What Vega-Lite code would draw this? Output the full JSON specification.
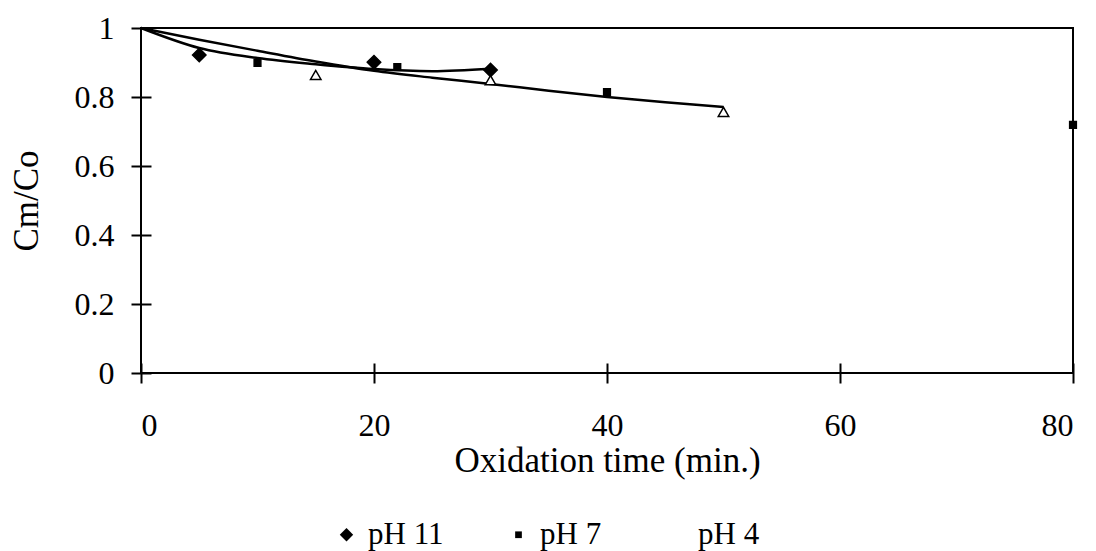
{
  "$schema": "https://vega.github.io/schema/vega-lite/v6.json",
  "width": 932,
  "height": 345,
  "autosize": {"type": "none"},
  "padding": {"left": 141, "top": 28, "right": 23, "bottom": 178},
  "background": "white",
  "config": {
    "view": {"stroke": "black", "strokeWidth": 2},
    "font": "Liberation Serif",
    "axis": {
      "domain": false,
      "grid": false,
      "offset": -10,
      "tickSize": 20,
      "tickWidth": 2,
      "tickColor": "black",
      "labelFont": "Liberation Serif",
      "labelFontSize": 32,
      "labelColor": "black",
      "titleFont": "Liberation Serif",
      "titleFontSize": 35,
      "titleFontWeight": "normal",
      "titleColor": "black"
    },
    "legend": {
      "orient": "none",
      "legendX": 190,
      "legendY": 491,
      "direction": "horizontal",
      "columns": 3,
      "padding": 0,
      "labelFont": "Liberation Serif",
      "labelFontSize": 31,
      "labelColor": "black",
      "labelOffset": 6,
      "columnPadding": 59,
      "symbolStrokeColor": "black",
      "symbolStrokeWidth": 1.5
    }
  },
  "datasets": {
    "points": [
      {"series": "pH 11", "time": 5, "ratio": 0.922},
      {"series": "pH 11", "time": 20, "ratio": 0.901},
      {"series": "pH 11", "time": 30, "ratio": 0.878},
      {"series": "pH 7", "time": 10, "ratio": 0.899},
      {"series": "pH 7", "time": 22, "ratio": 0.887},
      {"series": "pH 7", "time": 40, "ratio": 0.814},
      {"series": "pH 7", "time": 80, "ratio": 0.719},
      {"series": "pH 4", "time": 15, "ratio": 0.864},
      {"series": "pH 4", "time": 30, "ratio": 0.849},
      {"series": "pH 4", "time": 50, "ratio": 0.757}
    ],
    "fits": [
      {"curve": "main", "time": 0, "ratio": 1.0},
      {"curve": "main", "time": 5, "ratio": 0.966},
      {"curve": "main", "time": 10, "ratio": 0.934},
      {"curve": "main", "time": 15, "ratio": 0.903},
      {"curve": "main", "time": 20, "ratio": 0.876},
      {"curve": "main", "time": 25, "ratio": 0.856},
      {"curve": "main", "time": 30, "ratio": 0.838},
      {"curve": "main", "time": 35, "ratio": 0.818},
      {"curve": "main", "time": 40, "ratio": 0.8},
      {"curve": "main", "time": 45, "ratio": 0.785},
      {"curve": "main", "time": 50, "ratio": 0.771},
      {"curve": "pH11", "time": 0, "ratio": 1.0},
      {"curve": "pH11", "time": 5, "ratio": 0.942},
      {"curve": "pH11", "time": 10, "ratio": 0.913},
      {"curve": "pH11", "time": 15, "ratio": 0.895},
      {"curve": "pH11", "time": 20, "ratio": 0.881},
      {"curve": "pH11", "time": 25, "ratio": 0.875},
      {"curve": "pH11", "time": 30, "ratio": 0.882}
    ]
  },
  "layer": [
    {
      "data": {"name": "fits"},
      "mark": {"type": "line", "color": "black", "strokeWidth": 2.5, "interpolate": "monotone"},
      "encoding": {
        "x": {"field": "time", "type": "quantitative", "scale": {"domain": [0, 80], "nice": false},
              "axis": {"values": [0, 20, 40, 60, 80], "title": "Oxidation time (min.)", "labelPadding": 27, "titlePadding": 2}},
        "y": {"field": "ratio", "type": "quantitative", "scale": {"domain": [0, 1], "nice": false},
              "axis": {"values": [0, 0.2, 0.4, 0.6, 0.8, 1], "format": "~g", "title": "Cm/Co", "labelPadding": 17, "titlePadding": 30}},
        "detail": {"field": "curve"}
      }
    },
    {
      "data": {"name": "points"},
      "mark": {"type": "point", "filled": true, "stroke": "black", "strokeWidth": 1.5, "opacity": 1},
      "encoding": {
        "x": {"field": "time", "type": "quantitative"},
        "y": {"field": "ratio", "type": "quantitative"},
        "shape": {"field": "series", "type": "nominal", "title": null,
                  "scale": {"domain": ["pH 11", "pH 7", "pH 4"], "range": ["diamond", "square", "triangle-up"]}},
        "fill": {"field": "series", "type": "nominal", "title": null,
                 "scale": {"domain": ["pH 11", "pH 7", "pH 4"], "range": ["black", "black", "white"]}},
        "size": {"field": "series", "type": "nominal", "title": null,
                 "scale": {"type": "ordinal", "domain": ["pH 11", "pH 7", "pH 4"], "range": [180, 45, 110]}}
      }
    }
  ]
}
